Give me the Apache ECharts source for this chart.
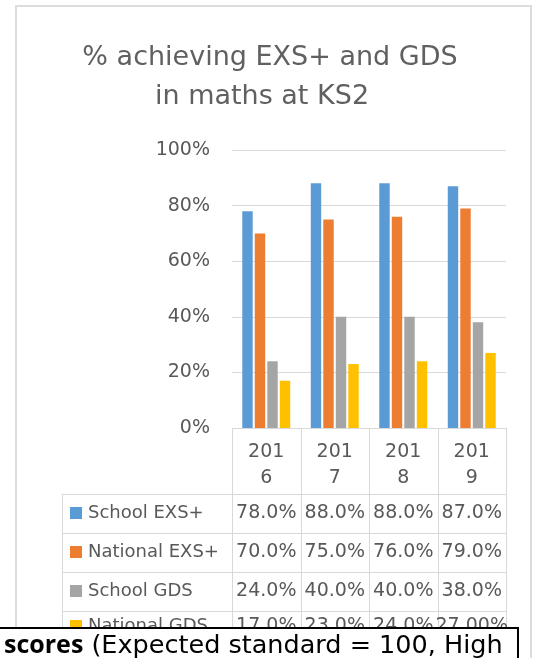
<!DOCTYPE html>
<html>
<head>
<meta charset="utf-8">
<script src="https://cdn.jsdelivr.net/npm/echarts@6/dist/echarts.min.js"></script>
<style>
  html, body { margin: 0; padding: 0; background: #fff; }
  #chart { width: 535px; height: 658px; }
</style>
</head>
<body>
<div id="chart"></div>
<script>
// data
const years = ['2016', '2017', '2018', '2019']
const schoolExs = [78, 88, 88, 87]
const nationalExs = [70, 75, 76, 79]
const schoolGds = [24, 40, 40, 38]
const nationalGds = [17, 23, 24, 27]
const yTicks = [0, 20, 40, 60, 80, 100]

const seriesNames = ['School EXS+', 'National EXS+', 'School GDS', 'National GDS']
const seriesData = [schoolExs, nationalExs, schoolGds, nationalGds]
// the last cell of the table shows two decimals in the original
const tableDecimals = [[1, 1, 1, 1], [1, 1, 1, 1], [1, 1, 1, 1], [1, 1, 1, 2]]
const colors = ['#5b9bd5', '#ed7d31', '#a5a5a5', '#ffc000']

const textColor = '#595959'
const lineColor = '#d9d9d9'
const font = 'DejaVu Sans'

// plot area
const gridLeft = 232
const gridTop = 150
const gridWidth = 274
const gridHeight = 278
const tableLeft = 62
const rowLines = [494, 533, 572, 611, 650]
const rowCenters = [513, 552, 591, 626]

const chart = echarts.init(document.getElementById('chart'))

const hline = (x1, x2, y) => ({
  type: 'line',
  shape: { x1: x1, y1: y + 0.5, x2: x2, y2: y + 0.5 },
  style: { stroke: lineColor, lineWidth: 1 },
  z: 5
})
const vline = (x, y1, y2) => ({
  type: 'line',
  shape: { x1: x + 0.5, y1: y1, x2: x + 0.5, y2: y2 },
  style: { stroke: lineColor, lineWidth: 1 },
  z: 5
})

const buildGraphic = () => {
  let els = []
  // outer chart frame
  els.push({
    type: 'rect',
    shape: { x: 16, y: 6, width: 515, height: 700 },
    style: { fill: 'none', stroke: '#dcdcdc', lineWidth: 2 },
    z: 1
  })
  // title
  els.push({
    type: 'text', x: 270, y: 58,
    style: { text: '% achieving EXS+ and GDS', font: '27px "' + font + '"', fill: '#606060', align: 'center', verticalAlign: 'middle' },
    z: 5
  })
  els.push({
    type: 'text', x: 262, y: 97,
    style: { text: 'in maths at KS2', font: '27px "' + font + '"', fill: '#606060', align: 'center', verticalAlign: 'middle' },
    z: 5
  })

  // data table lines
  const catW = gridWidth / years.length
  rowLines.forEach((y) => els.push(hline(tableLeft, gridLeft + gridWidth, y)))
  els.push(vline(tableLeft, rowLines[0], rowLines[rowLines.length - 1]))
  for (let i = 0; i <= years.length; i++) {
    els.push(vline(Math.round(gridLeft + i * catW), gridTop + gridHeight, rowLines[rowLines.length - 1]))
  }

  // table rows: legend key, name, values
  seriesNames.forEach((name, r) => {
    const cy = rowCenters[r]
    els.push({
      type: 'rect',
      shape: { x: 70, y: cy - 6, width: 12, height: 12 },
      style: { fill: colors[r] },
      z: 5
    })
    els.push({
      type: 'text', x: 88, y: cy,
      style: { text: name, font: '18px "' + font + '"', fill: textColor, align: 'left', verticalAlign: 'middle' },
      z: 5
    })
    seriesData[r].forEach((v, c) => {
      const cx = chart.convertToPixel({ xAxisIndex: 0 }, years[c])
      els.push({
        type: 'text', x: cx, y: cy,
        style: { text: v.toFixed(tableDecimals[r][c]) + '%', font: '19px "' + font + '"', fill: textColor, align: 'center', verticalAlign: 'middle' },
        z: 5
      })
    })
  })

  // black box of the page that sits over the bottom of the chart
  els.push({
    type: 'rect',
    shape: { x: -4, y: 628, width: 522, height: 60 },
    style: { fill: '#fff', stroke: '#000', lineWidth: 2 },
    z: 50
  })
  els.push({
    type: 'text', x: 4, y: 646,
    style: {
      text: '{b|scores} (Expected standard = 100, High',
      font: '25.5px "' + font + '"',
      fill: '#000',
      align: 'left',
      verticalAlign: 'middle',
      rich: {
        b: { fontFamily: 'Open Sans', fontWeight: 'bold', fontSize: 25, fill: '#000' }
      }
    },
    z: 51
  })
  return els
}

let option = {
  animation: false,
  backgroundColor: '#fff',
  grid: {
    left: gridLeft,
    top: gridTop,
    width: gridWidth,
    height: gridHeight
  },
  xAxis: {
    type: 'category',
    data: years,
    axisLine: { lineStyle: { color: lineColor } },
    axisTick: { show: false },
    axisLabel: {
      margin: 11,
      fontFamily: font,
      fontSize: 19,
      lineHeight: 26,
      color: textColor,
      formatter: (v) => v.slice(0, 3) + '\n' + v.slice(3)
    }
  },
  yAxis: {
    type: 'value',
    min: yTicks[0],
    max: yTicks[yTicks.length - 1],
    interval: yTicks[1] - yTicks[0],
    axisLine: { show: false },
    axisTick: { show: false },
    splitLine: { lineStyle: { color: lineColor } },
    axisLabel: {
      margin: 22,
      fontFamily: font,
      fontSize: 19,
      color: textColor,
      formatter: '{value}%'
    }
  },
  series: seriesNames.map((name, i) => ({
    name: name,
    type: 'bar',
    data: seriesData[i],
    barCategoryGap: '30%',
    barGap: '20%',
    itemStyle: { color: colors[i] }
  }))
}

chart.setOption(option)
chart.setOption({ graphic: { elements: buildGraphic() } })
</script>
</body>
</html>
